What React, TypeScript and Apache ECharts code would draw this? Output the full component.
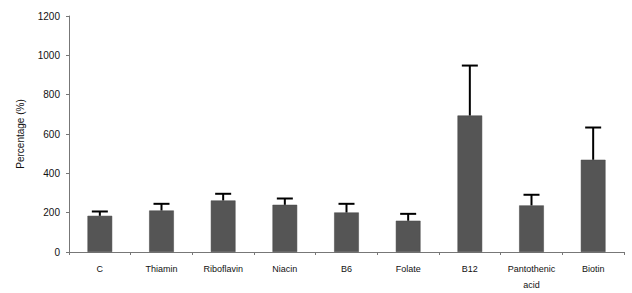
import React, { useEffect, useRef } from "react";
import * as echarts from "echarts";

const categories = ["C", "Thiamin", "Riboflavin", "Niacin", "B6", "Folate", "B12", "Pantothenic\nacid", "Biotin"];
const means = [184, 211, 262, 240, 201, 159, 694, 237, 469];
const upper = [206, 245, 296, 272, 245, 194, 948, 291, 633];
const yTicks = [0, 200, 400, 600, 800, 1000, 1200];

export default function App() {
  const ref = useRef<HTMLDivElement>(null);
  useEffect(() => {
    if (!ref.current) return;
    const chart = echarts.init(ref.current, undefined, { renderer: "svg" });
    const font = "Liberation Sans, Arial, sans-serif";
    chart.setOption({
      animation: false,
      backgroundColor: "#ffffff",
      grid: { left: 69, right: 8, top: 16, bottom: 41, containLabel: false, outerBoundsMode: "none" },
      xAxis: {
        type: "category",
        data: categories,
        axisLine: { lineStyle: { color: "#777", width: 1 } },
        axisTick: { show: true, inside: false, length: 3, lineStyle: { color: "#777" } },
        axisLabel: { color: "#111", fontSize: 9, fontFamily: font, margin: 9, lineHeight: 16, interval: 0 },
      },
      yAxis: {
        type: "value",
        min: yTicks[0],
        max: yTicks[yTicks.length - 1],
        interval: 200,
        name: "Percentage (%)",
        nameLocation: "middle",
        nameGap: 44,
        nameRotate: 90,
        nameTextStyle: { color: "#111", fontSize: 10, fontFamily: font },
        axisLine: { show: true, lineStyle: { color: "#777", width: 1 } },
        axisTick: { show: true, length: 3, lineStyle: { color: "#777" } },
        axisLabel: { color: "#111", fontSize: 10, fontFamily: font, margin: 9, formatter: (v: number) => String(v) },
        splitLine: { show: false },
      },
      series: [
        {
          type: "bar",
          data: means,
          barWidth: "40%",
          itemStyle: { color: "#555555", borderColor: "#444", borderWidth: 0.5 },
          z: 2,
        },
        {
          type: "custom",
          data: means.map((m, i) => [i, m, upper[i]]),
          z: 3,
          renderItem: (params: any, api: any) => {
            const x = api.value(0);
            const top = api.coord([x, api.value(1)]);
            const hi = api.coord([x, api.value(2)]);
            const half = 8;
            return {
              type: "group",
              children: [
                {
                  type: "line",
                  shape: { x1: top[0], y1: top[1], x2: hi[0], y2: hi[1] },
                  style: { stroke: "#000", lineWidth: 2 },
                },
                {
                  type: "line",
                  shape: { x1: hi[0] - half, y1: hi[1], x2: hi[0] + half, y2: hi[1] },
                  style: { stroke: "#000", lineWidth: 2 },
                },
              ],
            };
          },
        },
      ],
    });
    return () => chart.dispose();
  }, []);
  return <div ref={ref} style={{ width: 632, height: 293, position: "absolute", left: 0, top: 0 }} />;
}
